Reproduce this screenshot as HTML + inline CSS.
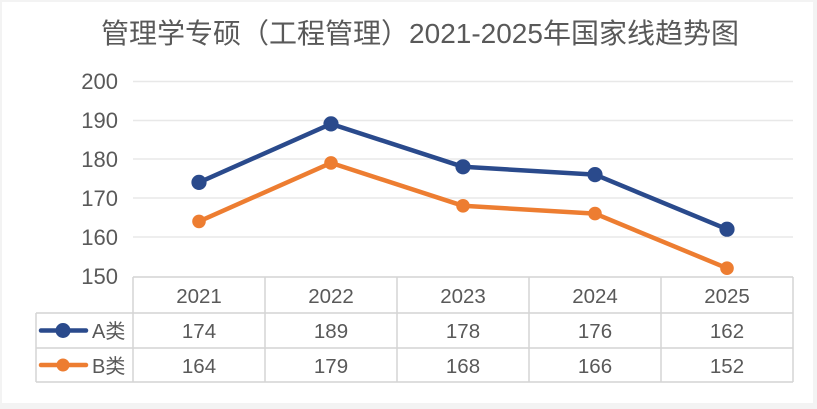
<!DOCTYPE html>
<html>
<head>
<meta charset="utf-8">
<style>
html,body{margin:0;padding:0;background:#f3f3f3;}
body{width:817px;height:409px;overflow:hidden;}
svg{display:block;}
text{font-family:"Liberation Sans","Noto Sans CJK SC",sans-serif;fill:#595959;}
</style>
</head>
<body>
<svg width="817" height="409" viewBox="0 0 817 409" xmlns="http://www.w3.org/2000/svg">
  <rect x="0" y="0" width="817" height="409" fill="#f3f3f3"/>
  <rect x="2" y="2" width="811" height="401" fill="#ffffff"/>

  <!-- Title -->
  <text x="420" y="43" font-size="28" text-anchor="middle">管理学专硕（工程管理）2021-2025年国家线趋势图</text>

  <!-- gridlines -->
  <g stroke="#e8e8e8" stroke-width="1.5">
    <line x1="133" y1="81.5" x2="793" y2="81.5"/>
    <line x1="133" y1="120.5" x2="793" y2="120.5"/>
    <line x1="133" y1="159" x2="793" y2="159"/>
    <line x1="133" y1="198" x2="793" y2="198"/>
    <line x1="133" y1="237" x2="793" y2="237"/>
  </g>

  <!-- y axis labels -->
  <g font-size="22" text-anchor="end">
    <text x="118" y="89">200</text>
    <text x="118" y="128">190</text>
    <text x="118" y="167">180</text>
    <text x="118" y="206">170</text>
    <text x="118" y="245">160</text>
    <text x="118" y="284">150</text>
  </g>

  <!-- table -->
  <g stroke="#d4d4d4" stroke-width="1.5" fill="none">
    <line x1="133" y1="277" x2="793" y2="277"/>
    <line x1="36" y1="313" x2="793" y2="313"/>
    <line x1="36" y1="348" x2="793" y2="348"/>
    <line x1="36" y1="382" x2="793" y2="382"/>
    <line x1="36" y1="313" x2="36" y2="382"/>
    <line x1="133" y1="277" x2="133" y2="382"/>
    <line x1="265" y1="277" x2="265" y2="382"/>
    <line x1="397" y1="277" x2="397" y2="382"/>
    <line x1="529" y1="277" x2="529" y2="382"/>
    <line x1="661" y1="277" x2="661" y2="382"/>
    <line x1="793" y1="277" x2="793" y2="382"/>
  </g>

  <g font-size="20.5" text-anchor="middle">
    <text x="199" y="303">2021</text>
    <text x="331" y="303">2022</text>
    <text x="463" y="303">2023</text>
    <text x="595" y="303">2024</text>
    <text x="727" y="303">2025</text>

    <text x="199" y="338">174</text>
    <text x="331" y="338">189</text>
    <text x="463" y="338">178</text>
    <text x="595" y="338">176</text>
    <text x="727" y="338">162</text>

    <text x="199" y="373">164</text>
    <text x="331" y="373">179</text>
    <text x="463" y="373">168</text>
    <text x="595" y="373">166</text>
    <text x="727" y="373">152</text>
  </g>

  <!-- legend -->
  <line x1="41" y1="330.5" x2="86" y2="330.5" stroke="#2a4a8c" stroke-width="4.5" stroke-linecap="round"/>
  <circle cx="63" cy="330.5" r="7.5" fill="#2a4a8c"/>
  <text x="92" y="338" font-size="20">A类</text>
  <line x1="41" y1="365" x2="86" y2="365" stroke="#ed7d31" stroke-width="4.5" stroke-linecap="round"/>
  <circle cx="63" cy="365" r="6.5" fill="#ed7d31"/>
  <text x="92" y="373" font-size="20">B类</text>

  <!-- series B -->
  <polyline points="199,221.4 331,162.9 463,205.8 595,213.6 727,268.2" fill="none" stroke="#ed7d31" stroke-width="4.5" stroke-linejoin="round"/>
  <g fill="#ed7d31">
    <circle cx="199" cy="221.4" r="6.8"/>
    <circle cx="331" cy="162.9" r="6.8"/>
    <circle cx="463" cy="205.8" r="6.8"/>
    <circle cx="595" cy="213.6" r="6.8"/>
    <circle cx="727" cy="268.2" r="6.8"/>
  </g>

  <!-- series A -->
  <polyline points="199,182.4 331,123.9 463,166.8 595,174.6 727,229.2" fill="none" stroke="#2a4a8c" stroke-width="4.5" stroke-linejoin="round"/>
  <g fill="#2a4a8c">
    <circle cx="199" cy="182.4" r="7.6"/>
    <circle cx="331" cy="123.9" r="7.6"/>
    <circle cx="463" cy="166.8" r="7.6"/>
    <circle cx="595" cy="174.6" r="7.6"/>
    <circle cx="727" cy="229.2" r="7.6"/>
  </g>
</svg>
</body>
</html>
